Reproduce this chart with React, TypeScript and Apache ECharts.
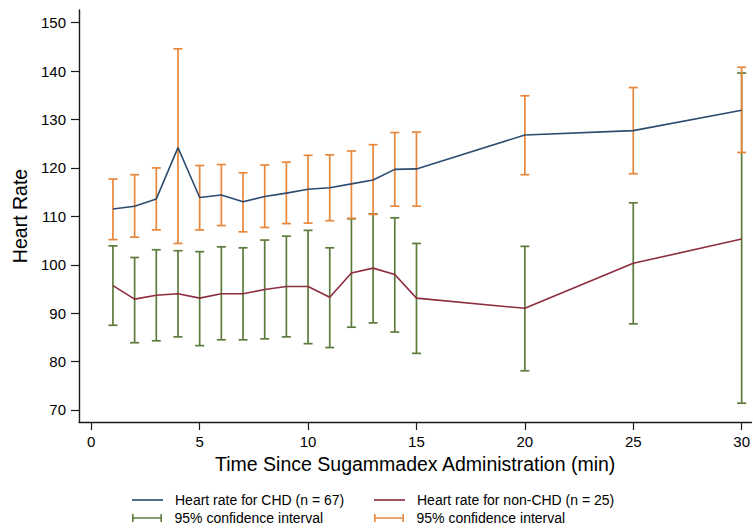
import React, { useEffect, useRef } from "react";
import * as echarts from "echarts";

const times = [1, 2, 3, 4, 5, 6, 7, 8, 9, 10, 11, 12, 13, 14, 15, 20, 25, 30];
const chdMean = [111.5, 112.1, 113.6, 124.2, 113.9, 114.4, 113.0, 114.1, 114.8, 115.6, 115.9, 116.7, 117.5, 119.7, 119.8, 126.8, 127.7, 131.9];
const chdLow = [105.2, 105.7, 107.2, 104.4, 107.2, 108.1, 106.8, 107.7, 108.5, 108.6, 109.1, 109.6, 110.4, 112.1, 112.1, 118.6, 118.8, 123.2];
const chdHigh = [117.7, 118.6, 120.0, 144.6, 120.5, 120.7, 119.0, 120.6, 121.2, 122.6, 122.7, 123.5, 124.8, 127.3, 127.4, 134.9, 136.6, 140.8];
const nonMean = [95.7, 92.9, 93.7, 94.0, 93.1, 94.0, 94.0, 94.9, 95.5, 95.5, 93.3, 98.3, 99.3, 98.0, 93.1, 91.0, 100.3, 105.3];
const nonLow = [87.5, 83.9, 84.3, 85.1, 83.3, 84.5, 84.5, 84.7, 85.1, 83.7, 82.9, 87.1, 88.0, 86.1, 81.7, 78.1, 87.8, 71.4];
const nonHigh = [103.9, 101.5, 103.1, 102.9, 102.7, 103.7, 103.5, 105.1, 105.9, 107.1, 103.5, 109.5, 110.5, 109.7, 104.4, 103.8, 112.8, 139.6];
const yTicks = [70, 80, 90, 100, 110, 120, 130, 140, 150];
const xTicks = [0, 5, 10, 15, 20, 25, 30];

const BLUE = "#2d4c70";
const RED = "#8c2d40";
const GREEN = "#5c7b3c";
const ORANGE = "#e8873a";
const FONT = "Liberation Sans";

const CHD_NAME = "Heart rate for CHD (n = 67)";
const NON_NAME = "Heart rate for non-CHD (n = 25)";
const CI_GREEN = "95% confidence interval";
const CI_ORANGE = "95% confidence interval ";

const ciIcon = "path://M0,0h1.6v8h-1.6z M1.6,3.2h26.8v1.6h-26.8z M28.4,0h1.6v8h-1.6z";
const lineIcon = "path://M0,0h30v1.6h-30z";

function errorRender(color: string) {
  return (params: any, api: any) => {
    const x = api.value(0);
    const lo = api.coord([x, api.value(1)]);
    const hi = api.coord([x, api.value(2)]);
    const half = 4.5;
    const style = { stroke: color, lineWidth: 1.7 };
    return {
      type: "group",
      children: [
        { type: "line", shape: { x1: lo[0], y1: lo[1], x2: hi[0], y2: hi[1] }, style },
        { type: "line", shape: { x1: lo[0] - half, y1: lo[1], x2: lo[0] + half, y2: lo[1] }, style },
        { type: "line", shape: { x1: hi[0] - half, y1: hi[1], x2: hi[0] + half, y2: hi[1] }, style },
      ],
    };
  };
}

export default function App() {
  const ref = useRef<HTMLDivElement>(null);
  useEffect(() => {
    if (!ref.current) return;
    const chart = echarts.init(ref.current, null, { renderer: "svg" });
    const legendBase = {
      orient: "horizontal",
      padding: 0,
      itemWidth: 31,
      itemGap: 10,
      selectedMode: false,
      textStyle: { fontSize: 14, color: "#000", fontFamily: FONT, padding: [0, 0, 0, 7] },
    };
    chart.setOption({
      animation: false,
      backgroundColor: "#fff",
      grid: { left: 79, top: 10, width: 674, height: 412, containLabel: false },
      xAxis: {
        type: "value",
        min: -0.566,
        max: 30.45,
        name: "Time Since Sugammadex Administration (min)",
        nameLocation: "middle",
        nameGap: 31,
        nameTextStyle: { fontSize: 19.5, color: "#000", fontFamily: FONT },
        axisLine: { show: true, onZero: false, lineStyle: { color: "#1a1a1a", width: 1.4 } },
        axisTick: { show: true, length: 8, customValues: xTicks, lineStyle: { color: "#1a1a1a", width: 1.2 } },
        axisLabel: { customValues: xTicks, fontSize: 15, color: "#000", fontFamily: FONT, margin: 12 },
        splitLine: { show: false },
      },
      yAxis: {
        type: "value",
        min: 67.52,
        max: 152.62,
        name: "Heart Rate",
        nameLocation: "middle",
        nameGap: 45,
        nameRotate: 90,
        nameTextStyle: { fontSize: 19.5, color: "#000", fontFamily: FONT },
        axisLine: { show: true, onZero: false, lineStyle: { color: "#1a1a1a", width: 1.4 } },
        axisTick: { show: true, length: 8, customValues: yTicks, lineStyle: { color: "#1a1a1a", width: 1.2 } },
        axisLabel: { customValues: yTicks, fontSize: 15, color: "#000", fontFamily: FONT, margin: 13 },
        splitLine: { show: false },
      },
      legend: [
        { ...legendBase, itemHeight: 2, left: 132, top: 493, data: [{ name: CHD_NAME, icon: lineIcon }] },
        { ...legendBase, itemHeight: 2, left: 374, top: 493, data: [{ name: NON_NAME, icon: lineIcon }] },
        { ...legendBase, itemHeight: 8, left: 132, top: 511, data: [{ name: CI_GREEN, icon: ciIcon }] },
        { ...legendBase, itemHeight: 8, left: 374, top: 511, data: [{ name: CI_ORANGE, icon: ciIcon }] },
      ],
      series: [
        {
          name: CI_GREEN,
          type: "custom",
          renderItem: errorRender(GREEN),
          itemStyle: { color: GREEN },
          encode: { x: 0, y: [1, 2] },
          data: times.map((t, i) => [t, nonLow[i], nonHigh[i]]),
          z: 2,
        },
        {
          name: CI_ORANGE,
          type: "custom",
          renderItem: errorRender(ORANGE),
          itemStyle: { color: ORANGE },
          encode: { x: 0, y: [1, 2] },
          data: times.map((t, i) => [t, chdLow[i], chdHigh[i]]),
          z: 3,
        },
        {
          name: CHD_NAME,
          type: "line",
          symbol: "none",
          lineStyle: { color: BLUE, width: 1.6 },
          itemStyle: { color: BLUE },
          data: times.map((t, i) => [t, chdMean[i]]),
          z: 4,
        },
        {
          name: NON_NAME,
          type: "line",
          symbol: "none",
          lineStyle: { color: RED, width: 1.6 },
          itemStyle: { color: RED },
          data: times.map((t, i) => [t, nonMean[i]]),
          z: 4,
        },
      ],
    });
    return () => chart.dispose();
  }, []);
  return <div ref={ref} style={{ position: "fixed", left: 0, top: 0, width: 753, height: 529 }} />;
}
